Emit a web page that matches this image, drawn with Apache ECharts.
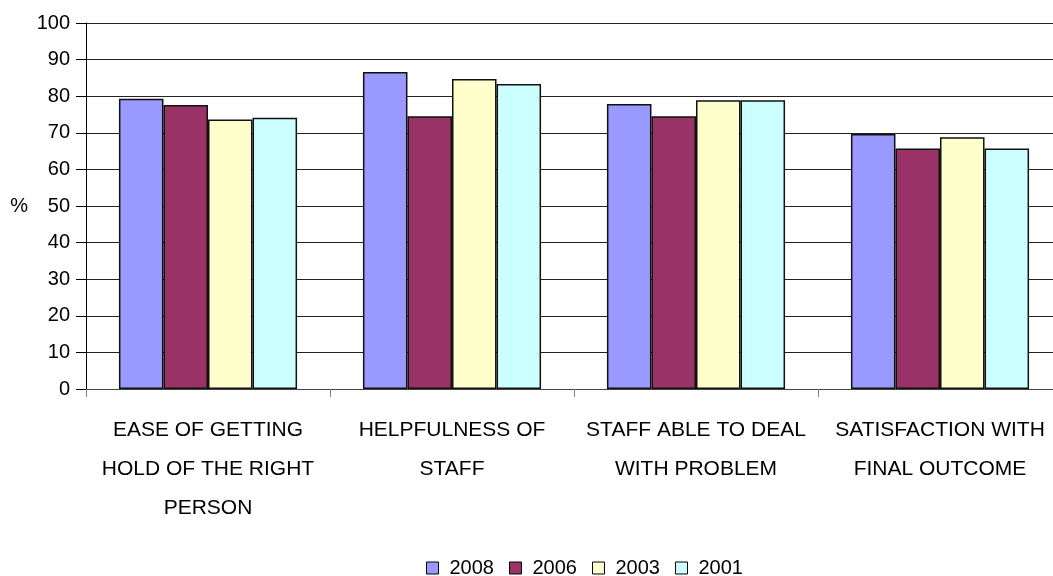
<!DOCTYPE html>
<html>
<head>
<meta charset="utf-8">
<script src="https://cdn.jsdelivr.net/npm/echarts@6/dist/echarts.min.js"></script>
<style>html,body{margin:0;padding:0;background:#fff;overflow:hidden}#c{width:1053px;height:576px}</style>
</head>
<body>
<div id="c"></div>
<script>
var categories = [
  'EASE OF GETTING\nHOLD OF THE RIGHT\nPERSON',
  'HELPFULNESS OF\nSTAFF',
  'STAFF ABLE TO DEAL\nWITH PROBLEM',
  'SATISFACTION WITH\nFINAL OUTCOME'
];
var seriesNames = ['2008', '2006', '2003', '2001'];
var v2008 = [79.3, 86.6, 77.9, 69.7];
var v2006 = [77.6, 74.5, 74.5, 65.7];
var v2003 = [73.6, 84.7, 78.9, 68.8];
var v2001 = [74.1, 83.3, 78.9, 65.7];
var colors = ['#9999FF', '#993366', '#FFFFCC', '#CCFFFF'];
var yTicks = [0, 100, 10];

var values = [v2008, v2006, v2003, v2001];
var font = 'Liberation Sans, Arial, sans-serif';
var chart = echarts.init(document.getElementById('c'));
chart.setOption({
  animation: false,
  backgroundColor: '#fff',
  grid: { left: 86, width: 976, top: 23, bottom: 187, containLabel: false, outerBoundsMode: 'none' },
  legend: {
    data: seriesNames,
    left: 421, top: 553,
    itemWidth: 12, itemHeight: 12, itemGap: 15,
    icon: 'rect',
    textStyle: { fontFamily: font, fontSize: 20, color: '#000', padding: [0, 0, 0, 6] },
    itemStyle: { borderColor: '#000', borderWidth: 1 }
  },
  xAxis: {
    type: 'category',
    data: categories,
    axisLine: { lineStyle: { color: '#444', width: 1 } },
    axisTick: { show: true, length: 8, lineStyle: { color: '#808080' } },
    axisLabel: { fontFamily: font, fontSize: 21, color: '#000', lineHeight: 39, margin: 22, interval: 0 }
  },
  yAxis: {
    type: 'value',
    min: yTicks[0], max: yTicks[1], interval: yTicks[2],
    name: '%',
    nameLocation: 'middle',
    nameRotate: 0,
    nameGap: 58,
    nameTextStyle: { fontFamily: font, fontSize: 20, color: '#000' },
    axisLine: { show: true, lineStyle: { color: '#000', width: 1 } },
    axisTick: { show: true, length: 10, lineStyle: { color: '#000' } },
    axisLabel: { fontFamily: font, fontSize: 20, color: '#000', margin: 16 },
    splitLine: { lineStyle: { color: '#222', width: 1 } }
  },
  series: seriesNames.map(function (n, i) {
    return {
      name: n, type: 'bar', data: values[i],
      barGap: '0%', barCategoryGap: '27%',
      itemStyle: { color: colors[i], borderColor: '#111', borderWidth: 1.5 }
    };
  })
});
</script>
</body>
</html>
